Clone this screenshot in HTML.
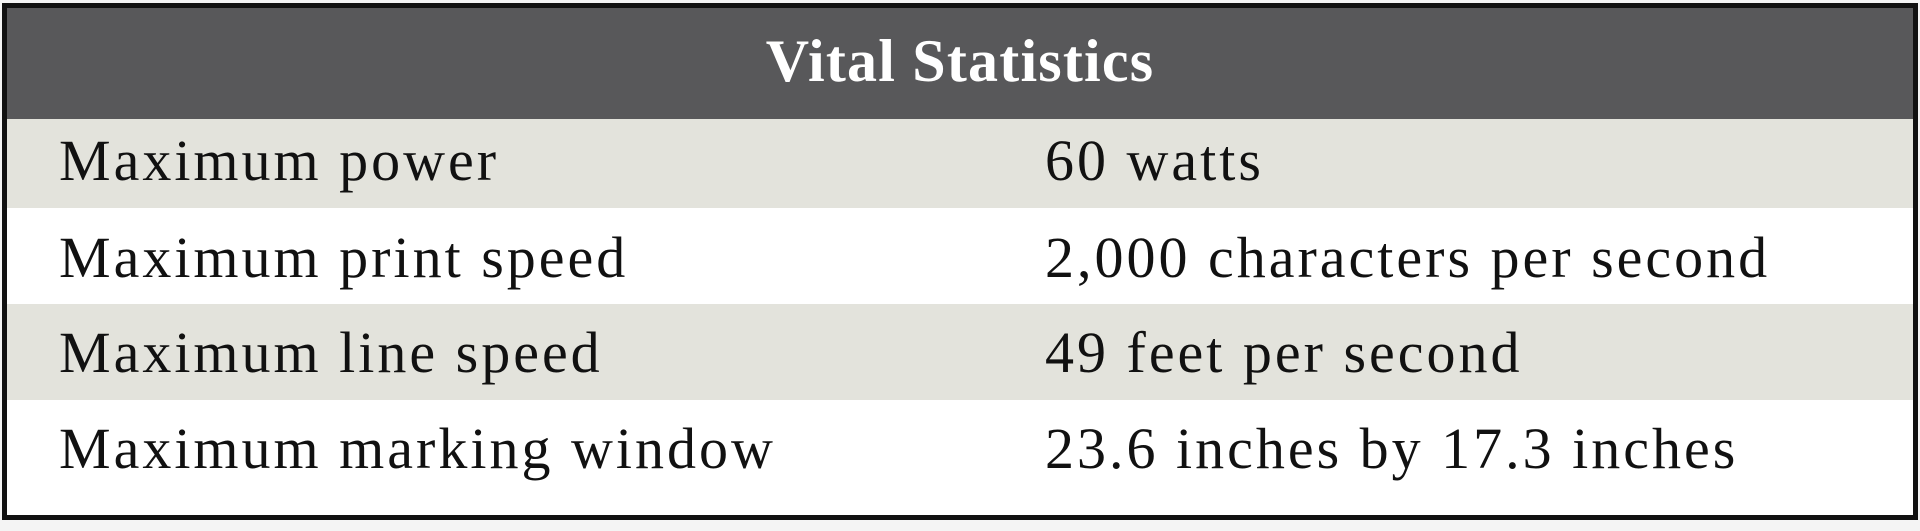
<!DOCTYPE html>
<html><head><style>
body{margin:0;width:1920px;height:531px;background:#f4f4f4;position:relative;overflow:hidden;font-family:"Liberation Serif",serif;}
.box{position:absolute;left:2px;top:3px;width:1906px;height:507px;border:5px solid #111;background:#fff;}
.r{position:absolute;left:0;width:1906px;}
.t{position:absolute;font-size:58px;letter-spacing:3px;color:#111;white-space:nowrap;line-height:1;}
</style></head><body>
<div class="box">
<div class="r" style="top:0;height:111px;background:#58585a"></div>
<div class="t" style="left:0;width:1906px;text-align:center;top:23px;color:#fff;font-weight:bold;font-size:60px;letter-spacing:1.2px">Vital Statistics</div>
<div class="r" style="top:111px;height:89px;background:#e3e3dc"></div>
<div class="r" style="top:296px;height:96px;background:#e3e3dc"></div>
<div class="t" style="left:52px;top:124px">Maximum power</div>
<div class="t" style="left:1038px;top:124px">60 watts</div>
<div class="t" style="left:52px;top:221px">Maximum print speed</div>
<div class="t" style="left:1038px;top:221px">2,000 characters per second</div>
<div class="t" style="left:52px;top:316px">Maximum line speed</div>
<div class="t" style="left:1038px;top:316px">49 feet per second</div>
<div class="t" style="left:52px;top:412px">Maximum marking window</div>
<div class="t" style="left:1038px;top:412px">23.6 inches by 17.3 inches</div>
</div>
</body></html>
